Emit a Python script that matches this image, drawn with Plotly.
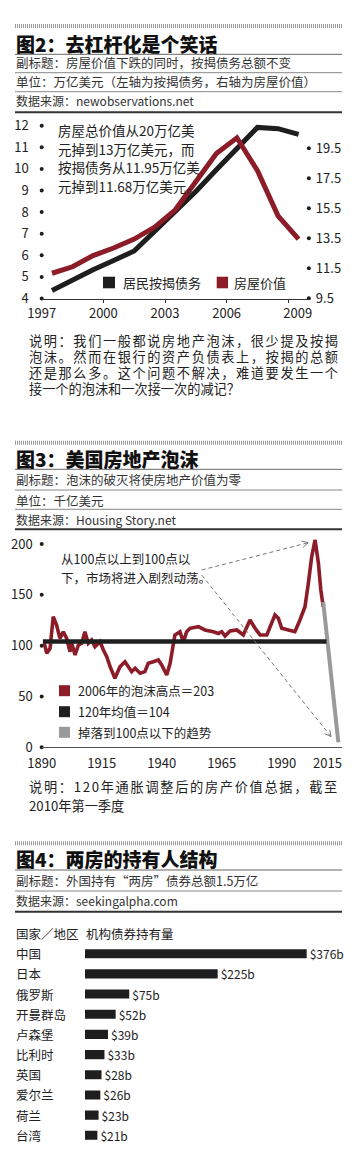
import math
import plotly.graph_objects as go

# ---------------- data ----------------
# Chart 1 (图2): mid-year points
years_c1 = [1997.5, 1998.5, 1999.5, 2000.5, 2001.5, 2002.5, 2003.5,
            2004.5, 2005.5, 2006.5, 2007.5, 2008.5, 2009.5]
mortgage_debt = [4.37, 4.86, 5.33, 5.76, 6.2, 7.12, 8.0, 8.95, 9.96, 10.97, 11.92, 11.86, 11.6]
house_value = [11.17, 11.6, 12.35, 12.85, 13.45, 14.25, 15.4, 17.3, 19.15, 20.2, 18.0, 15.0, 13.45]
c1_left_ticks = [4, 5, 6, 7, 8, 9, 10, 11, 12]
c1_right_ticks = [9.5, 11.5, 13.5, 15.5, 17.5, 19.5]
c1_x_tickvals = [1997, 2000, 2003, 2006, 2009.46]
c1_x_ticktext = ["1997", "2000", "2003", "2006", "2009"]

# Chart 2 (图3): housing index
years_c2 = [1891.1, 1892.1, 1893.5, 1894.8, 1896.2, 1897.6, 1899.0, 1900.4, 1901.8, 1902.5,
            1903.9, 1905.3, 1906.7, 1908.0, 1909.4, 1910.8, 1912.2, 1914.3, 1915.7, 1917.1,
            1918.5, 1920.5, 1922.6, 1924.7, 1926.1, 1927.5, 1928.9, 1931.0, 1933.0, 1934.4,
            1936.5, 1938.6, 1940.0, 1942.1, 1943.5, 1944.2, 1945.5, 1947.6, 1949.0, 1950.4,
            1951.8, 1955.3, 1958.0, 1961.5, 1963.6, 1965.0, 1966.4, 1968.5, 1971.3, 1974.0,
            1976.8, 1978.9, 1981.0, 1983.8, 1987.2, 1988.6, 1990.0, 1992.8, 1995.5, 1997.6,
            1999.7, 2001.1, 2002.5, 2003.9, 2005.3, 2006.3, 2007.3]
index_c2 = [102.3, 92.5, 97.4, 128.5, 120.3, 107.2, 113.7, 107.2, 94.0, 102.3,
            90.8, 100.6, 102.3, 113.7, 102.3, 105.6, 99.0, 103.9, 95.7, 89.1,
            79.3, 67.9, 79.3, 84.2, 79.3, 74.4, 77.7, 72.8, 74.4, 82.6,
            84.2, 85.9, 81.0, 71.1, 82.6, 94.0, 110.5, 113.7, 103.5, 113.7,
            117.0, 118.6, 115.4, 113.7, 112.0, 113.7, 109.5, 114.4, 115.4, 110.5,
            125.2, 117.0, 110.5, 110.5, 130.2, 126.9, 117.0, 115.4, 113.7, 125.2,
            138.3, 161.3, 187.5, 204.0, 181.0, 154.7, 138.3]
mean_years = [1890.5, 2008.7]
mean_value = [104, 104]
trend_years = [2007.3, 2013.6]
trend_values = [143, 5]
c2_y_ticks = [0, 50, 100, 150, 200]
c2_x_tickvals = [1890, 1915, 1940, 1965, 1990, 2009.1]
c2_x_ticktext = ["1890", "1915", "1940", "1965", "1990", "2015"]

# Chart 3 (图4): holders
countries = ["中国", "日本", "俄罗斯", "开曼群岛", "卢森堡", "比利时", "英国", "爱尔兰", "荷兰", "台湾"]
holdings = [376, 225, 75, 52, 39, 33, 28, 26, 23, 21]

# ---------------- helpers ----------------
W, H = 355, 1171
FONT = "Noto Sans CJK SC, Noto Sans, sans-serif"
RED = "#8c1c27"
BLACK = "#1e1e1e"
GRAY = "#9a9a9a"


def X(px):
    return px / W


def Y(py):
    return 1 - py / H


shapes = []
annotations = []


def hline(y, color="#777", width=1, dash=None, x0=15, x1=342):
    ln = dict(color=color, width=width)
    if dash:
        ln["dash"] = dash
    shapes.append(dict(type="line", xref="paper", yref="paper", x0=X(x0), x1=X(x1),
                       y0=Y(y), y1=Y(y), line=ln, layer="above"))


def text(x, y, s, size, color="#222", xanchor="left", weight="normal"):
    annotations.append(dict(xref="paper", yref="paper", x=X(x), y=Y(y), text=s,
                            showarrow=False, xanchor=xanchor, yanchor="middle",
                            borderpad=0, align="left",
                            font=dict(family=FONT, size=size, color=color, weight=weight)))


def spaced(s, ls):
    return f'<span style="letter-spacing:{ls}px">{s}</span>'


def rect(x0, y0, x1, y1, color):
    shapes.append(dict(type="rect", xref="paper", yref="paper", x0=X(x0), x1=X(x1),
                       y0=Y(y1), y1=Y(y0), line=dict(width=0), fillcolor=color))


def pline(x0, y0, x1, y1, color, width, dash=None):
    ln = dict(color=color, width=width)
    if dash:
        ln["dash"] = dash
    shapes.append(dict(type="line", xref="paper", yref="paper", x0=X(x0), x1=X(x1),
                       y0=Y(y0), y1=Y(y1), line=ln))


def dashed_arrow(x0, y0, x1, y1):
    pline(x0, y0, x1, y1, "#777", 1, "4px,3px")
    dx, dy = x1 - x0, y1 - y0
    L = math.hypot(dx, dy)
    ux, uy = dx / L, dy / L
    for ang in (math.radians(28), -math.radians(28)):
        rx = ux * math.cos(ang) - uy * math.sin(ang)
        ry = ux * math.sin(ang) + uy * math.cos(ang)
        pline(x1, y1, x1 - 7 * rx, y1 - 7 * ry, "#777", 1)


DOT = dict(color="#999", width=4, dash="1px,1px")

# ---------------- section 图2 headers ----------------
hline(26, **DOT)
text(15, 43.3, "图2：去杠杆化是个笑话", 19, "#111", weight=900)
hline(54.3, "#666")
text(15, 62.8, "副标题：房屋价值下跌的同时，按揭债务总额不变", 12.5, "#333")
hline(72.7, "#888")
text(15, 81.5, "单位：万亿美元（左轴为按揭债务，右轴为房屋价值）", 12.5, "#333")
hline(91.7, "#888")
text(15, 100.5, "数据来源：newobservations.net", 12, "#333")
hline(112.3, "#333", 2)

# chart 1 annotation text
for yy, s in zip([130, 148.5, 167, 185.5],
                 ["房屋总价值从20万亿美", "元掉到13万亿美元，而", "按揭债务从11.95万亿美", "元掉到11.68万亿美元。"]):
    text(57, yy, s, 13.5)

# chart 1 legend
rect(103, 276.7, 115, 288.3, BLACK)
text(121.5, 282.5, "居民按揭债务", 13)
rect(216.7, 276.7, 228, 288.3, RED)
text(233, 282.5, "房屋价值", 13)

# chart 1 description
desc1 = ["说明：我们一般都说房地产泡沫，很少提及按揭",
         "泡沫。然而在银行的资产负债表上，按揭的总额",
         "还是那么多。这个问题不解决，难道要发生一个",
         "接一个的泡沫和一次接一次的减记？"]
for i, (yy, s) in enumerate(zip([340, 356, 372, 388], desc1)):
    text(28, yy, spaced(s, 1.6) if i < 3 else s, 13.2)

# ---------------- section 图3 ----------------
hline(442.7, **DOT)
text(15, 458, "图3：美国房地产泡沫", 19, "#111", weight=900)
hline(469.3, "#666")
text(15, 480, "副标题：泡沫的破灭将使房地产价值为零", 12.5, "#333")
hline(490, "#888")
text(15, 500.7, "单位：千亿美元", 12.5, "#333")
hline(509.3, "#888")
text(15, 519.3, "数据来源：Housing Story.net", 12, "#333")
hline(529.3, "#333", 2)

text(60, 558.3, "从100点以上到100点以", 12.5)
text(60, 577.3, "下，市场将进入剧烈动荡。", 12.5)
dashed_arrow(201.7, 570, 308.3, 542.7)
dashed_arrow(201.7, 575, 331, 736.5)

for yy, col, s in zip([690.7, 711.7, 732.3], [RED, BLACK, GRAY],
                      ["2006年的泡沫高点＝203", "120年均值＝104", "掉落到100点以下的趋势"]):
    rect(59, yy - 5.5, 70, yy + 5.5, col)
    text(76.5, yy, s, 12.5)

text(28, 786, spaced("说明：120年通胀调整后的房产价值总据，截至", 1.7), 13.2)
text(28, 805, "2010年第一季度", 13.2)

# ---------------- section 图4 ----------------
hline(843.3, **DOT)
text(15, 858.7, "图4：两房的持有人结构", 19, "#111", weight=900)
hline(870, "#666")
text(15, 880, "副标题：外国持有“两房”债券总额1.5万亿", 12.5, "#333")
hline(891, "#888")
text(15, 900.7, "数据来源：seekingalpha.com", 12, "#333")
hline(911.7, "#333", 2)

text(15, 933.3, "国家／地区", 12.5)
text(85, 933.3, "机构债券持有量", 12.5)
for c in countries:
    annotations.append(dict(xref="paper", yref="y4", x=X(15), y=c, text=c, showarrow=False,
                            xanchor="left", yanchor="middle", borderpad=0,
                            font=dict(family=FONT, size=12.5, color="#222")))

# ---------------- traces ----------------
fig = go.Figure()
noh = dict(hoverinfo="skip", showlegend=False)

# chart 1
fig.add_trace(go.Scatter(x=years_c1, y=house_value, mode="lines", xaxis="x", yaxis="y2",
                         line=dict(color=RED, width=5), **noh))
fig.add_trace(go.Scatter(x=years_c1, y=mortgage_debt, mode="lines", xaxis="x", yaxis="y",
                         line=dict(color=BLACK, width=5), **noh))
fig.add_trace(go.Scatter(x=[1997] * len(c1_left_ticks), y=c1_left_ticks, mode="markers",
                         xaxis="x", yaxis="y", cliponaxis=False,
                         marker=dict(color=BLACK, size=4), **noh))
fig.add_trace(go.Scatter(x=[2010] * len(c1_right_ticks), y=c1_right_ticks, mode="markers",
                         xaxis="x", yaxis="y2", cliponaxis=False,
                         marker=dict(color=BLACK, size=4), **noh))

# chart 2
fig.add_trace(go.Scatter(x=years_c2, y=index_c2, mode="lines", xaxis="x3", yaxis="y3",
                         line=dict(color=RED, width=3.6), **noh))
fig.add_trace(go.Scatter(x=trend_years, y=trend_values, mode="lines", xaxis="x3", yaxis="y3",
                         line=dict(color=GRAY, width=4), **noh))
fig.add_trace(go.Scatter(x=mean_years, y=mean_value, mode="lines", xaxis="x3", yaxis="y3",
                         line=dict(color=BLACK, width=4.5), **noh))
fig.add_trace(go.Scatter(x=[1890] * len(c2_y_ticks), y=c2_y_ticks, mode="markers",
                         xaxis="x3", yaxis="y3", cliponaxis=False,
                         marker=dict(color=BLACK, size=4), **noh))

# chart 3
fig.add_trace(go.Bar(x=holdings, y=countries, orientation="h", xaxis="x4", yaxis="y4",
                     marker=dict(color=BLACK, line=dict(width=0)), width=0.45,
                     texttemplate="$%{x}b", textposition="outside", cliponaxis=False,
                     constraintext="none",
                     textfont=dict(family=FONT, size=12, color="#222"), **noh))

tickfont = dict(family=FONT, size=13, color="#222")
fig.update_layout(
    width=W, height=H, margin=dict(l=0, r=0, t=0, b=0, pad=0, autoexpand=False),
    paper_bgcolor="white", plot_bgcolor="rgba(0,0,0,0)", showlegend=False,
    font=dict(family=FONT),
    xaxis=dict(domain=[X(41.7), X(308.85)], range=[1997, 2010], anchor="y",
               showline=True, linecolor="#333", linewidth=1, showgrid=False, zeroline=False,
               tickmode="array", tickvals=c1_x_tickvals, ticktext=c1_x_ticktext, ticks="",
               tickfont=tickfont, ticklabelstandoff=3, automargin=False,
               minor=dict(tickmode="array", tickvals=[2000, 2003, 2006, 2009], ticks="outside",
                          ticklen=3, tickcolor="#333")),
    yaxis=dict(domain=[Y(298.5), Y(119.2)], range=[4, 12.3], anchor="x", automargin=False,
               showline=False, showgrid=False, zeroline=False, tickmode="array",
               tickvals=c1_left_ticks, ticks="", tickfont=tickfont, ticklabelstandoff=12),
    yaxis2=dict(overlaying="y", side="right", anchor="free", position=X(308.85),
                range=[9.487, 21.44], showline=False, showgrid=False, zeroline=False,
                automargin=False,
                tickmode="array", tickvals=c1_right_ticks,
                ticktext=[f"{v:.1f}" for v in c1_right_ticks], ticks="",
                tickfont=tickfont, ticklabelstandoff=6),
    xaxis3=dict(domain=[X(41.7), X(341.7)], range=[1890, 2015], anchor="y3",
                showline=True, linecolor="#555", linewidth=1, showgrid=False, zeroline=False,
                automargin=False,
                tickmode="array", tickvals=c2_x_tickvals, ticktext=c2_x_ticktext, ticks="",
                tickfont=tickfont, ticklabelstandoff=4),
    yaxis3=dict(domain=[Y(747.3), Y(533.8)], range=[0, 210], anchor="x3", automargin=False,
                showline=False, showgrid=False, zeroline=False, tickmode="array",
                tickvals=c2_y_ticks, ticks="", tickfont=tickfont, ticklabelstandoff=8),
    xaxis4=dict(domain=[X(85), X(340)], range=[0, 432.5], anchor="y4", visible=False),
    yaxis4=dict(domain=[Y(1145.8), Y(943.2)], anchor="x4", visible=False,
                categoryorder="array", categoryarray=countries, autorange="reversed"),
    shapes=shapes,
    annotations=annotations,
)

fig.write_html("out.html", config={"displayModeBar": False},
               post_script="document.body.style.margin='0';document.body.style.padding='0';")
